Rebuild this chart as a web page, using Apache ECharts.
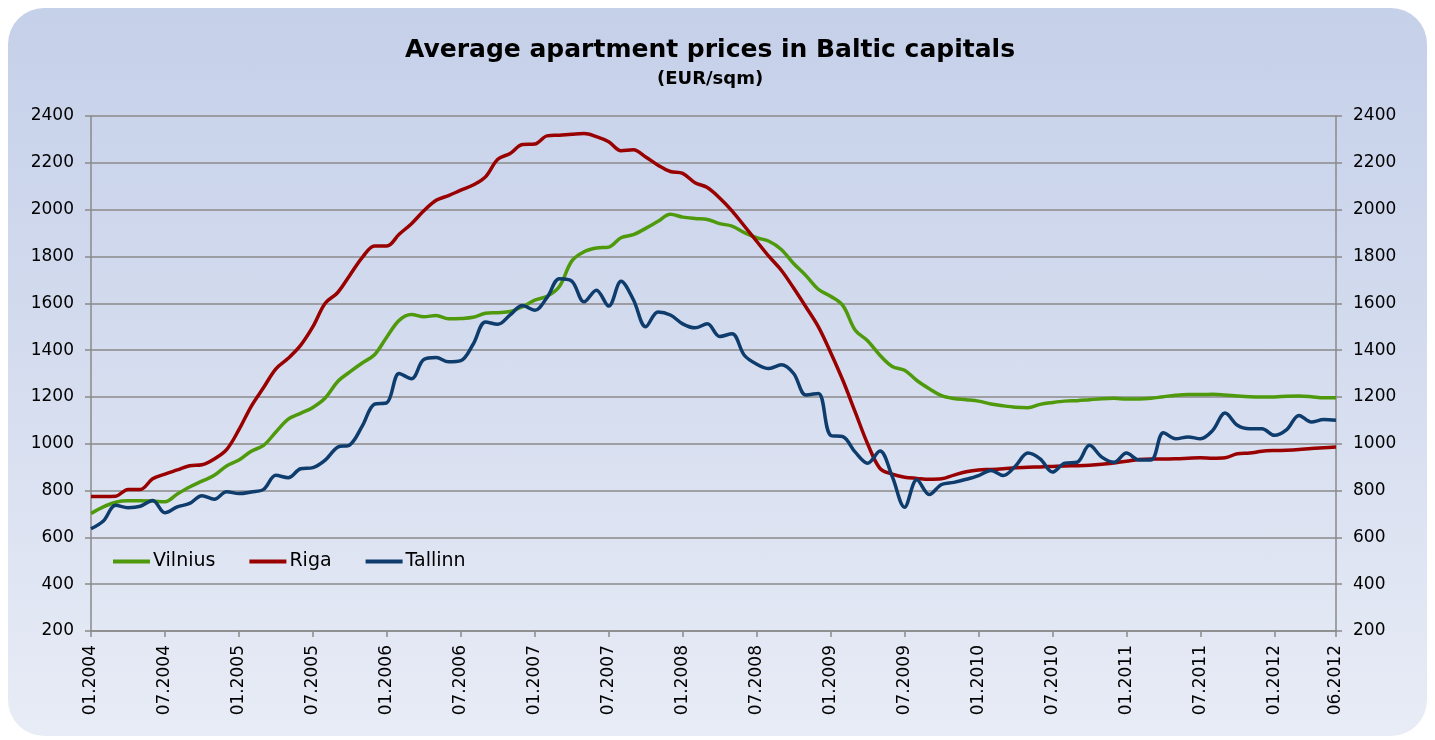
<!DOCTYPE html>
<html>
<head>
<meta charset="utf-8">
<script src="https://cdn.jsdelivr.net/npm/echarts@6/dist/echarts.min.js"></script>
<style>
  html, body { margin: 0; padding: 0; background: #ffffff; }
  #panel { position: absolute; left: 8px; top: 8px; width: 1419px; height: 728px;
           border-radius: 36px; background: linear-gradient(to bottom, #c5d0e9 0%, #d3dbee 45%, #e8ecf6 100%); }
  #chart { position: absolute; left: 0; top: 0; width: 1435px; height: 740px; }
</style>
</head>
<body>
<div id="panel"></div>
<div id="chart"></div>
<script>
// Month categories 01.2004 .. 06.2012
const categories = [];
for (let y = 2004; y <= 2012; y++) {
  for (let m = 1; m <= 12; m++) {
    if (y === 2012 && m > 6) break;
    categories.push((m < 10 ? '0' + m : '' + m) + '.' + y);
  }
}

const yTicks = [200, 400, 600, 800, 1000, 1200, 1400, 1600, 1800, 2000, 2200, 2400];

const vilnius = [
  702, 730, 750, 756, 756, 755, 752, 785, 815, 840, 865, 905,
  930, 968, 993, 1050, 1105, 1130, 1155, 1195, 1265, 1307, 1345, 1380,
  1456, 1527, 1552, 1542, 1548, 1534, 1535, 1540, 1557, 1560, 1565, 1585,
  1613, 1630, 1672, 1780, 1820, 1836, 1840, 1880, 1893, 1920, 1950, 1980,
  1968, 1962, 1958, 1940, 1930, 1902, 1880, 1865, 1830, 1770, 1718, 1660,
  1630, 1590, 1485, 1440, 1378, 1330, 1314, 1270, 1235, 1205, 1193, 1188,
  1182, 1170, 1162, 1156, 1154, 1168, 1176, 1182, 1184, 1188, 1192, 1194,
  1191, 1191, 1194, 1201, 1207, 1210, 1210, 1211, 1208, 1204, 1201, 1200,
  1200, 1203, 1204, 1201, 1196, 1196
];

const riga = [
  775, 775, 776, 805, 805, 850, 870, 888, 906, 910, 935, 975,
  1060, 1160, 1240, 1320, 1365, 1420, 1500, 1600, 1645, 1720, 1795, 1845,
  1845, 1895, 1940, 1995, 2040, 2060, 2083, 2105, 2140, 2215, 2240, 2278,
  2280, 2315, 2318, 2322, 2325, 2312, 2290, 2252, 2256, 2225, 2190, 2163,
  2155, 2115, 2095, 2050, 1995, 1930, 1865, 1800, 1741, 1665, 1584, 1500,
  1390, 1270, 1135, 1000, 895, 870, 857, 852, 848, 850, 866, 880,
  888, 890, 893, 897, 900, 901, 903, 905, 906, 908, 912, 918,
  925, 933, 935, 935, 936, 938, 940, 938, 940, 957, 960, 968,
  971, 972, 975, 980, 983, 986
];

const tallinn = [
  637, 670, 737, 727, 733, 758, 705, 730, 745, 778, 763, 795,
  787, 794, 805, 865, 855, 893, 898, 930, 985, 995, 1075, 1169,
  1175, 1300, 1278, 1360, 1368, 1350, 1355, 1425, 1520, 1510, 1550, 1590,
  1570, 1625, 1705, 1695, 1606, 1656, 1588, 1694, 1615, 1500, 1563, 1550,
  1512, 1495, 1512, 1458, 1470, 1378, 1340, 1321, 1337, 1300, 1208, 1215,
  1036, 1030, 964, 917, 969, 860, 729, 846, 783, 826, 835, 848,
  864, 886, 864, 905, 960, 935, 879, 917, 921, 993, 943, 921,
  960, 931, 931, 1047, 1021, 1029, 1021, 1057, 1131, 1079, 1064, 1064,
  1036, 1060, 1121, 1093, 1103, 1100
];

const FONT = '"DejaVu Sans", Verdana, sans-serif';
const lastIdx = categories.length - 1;
const showIdx = (i) => i % 6 === 0 || i === lastIdx;

const chart = echarts.init(document.getElementById('chart'), null, { renderer: 'canvas' });

const axisGray = '#8a8a8a';

const option = {
  backgroundColor: 'transparent',
  animation: false,
  title: [
    { text: 'Average apartment prices in Baltic capitals', left: 400, top: 33,
      textStyle: { fontFamily: FONT, fontSize: 25, fontWeight: 'bold', color: '#000' } },
    { text: '(EUR/sqm)', left: 652, top: 65,
      textStyle: { fontFamily: FONT, fontSize: 18, fontWeight: 'bold', color: '#000' } }
  ],
  legend: {
    left: 108, top: 547,
    itemWidth: 37, itemHeight: 4, itemGap: 34,
    icon: 'rect',
    textStyle: { fontFamily: FONT, fontSize: 19, color: '#000', padding: [0, 0, 0, -2] },
    data: ['Vilnius', 'Riga', 'Tallinn']
  },
  grid: { left: 91, right: 99, top: 116, bottom: 109, containLabel: false },
  xAxis: {
    type: 'category',
    data: categories,
    boundaryGap: false,
    axisLine: { lineStyle: { color: axisGray, width: 1.5 } },
    axisTick: { interval: (i) => showIdx(i), length: 6, lineStyle: { color: axisGray, width: 1.5 } },
    axisLabel: { interval: (i) => showIdx(i), rotate: 90, margin: 14,
      fontFamily: FONT, fontSize: 17, color: '#000' },
    splitLine: { show: false }
  },
  yAxis: [
    { type: 'value', min: 200, max: 2400, interval: 200, position: 'left',
      axisLine: { show: true, lineStyle: { color: axisGray, width: 1.5 } },
      axisTick: { show: true, length: 6, lineStyle: { color: axisGray, width: 1.5 } },
      axisLabel: { margin: 17, fontFamily: FONT, fontSize: 17, color: '#000',
        formatter: (v) => yTicks.indexOf(v) >= 0 ? String(v) : '' },
      splitLine: { show: true, lineStyle: { color: axisGray, width: 1.5 } } },
    { type: 'value', min: 200, max: 2400, interval: 200, position: 'right',
      axisLine: { show: true, lineStyle: { color: axisGray, width: 1.5 } },
      axisTick: { show: true, length: 6, lineStyle: { color: axisGray, width: 1.5 } },
      axisLabel: { margin: 17, fontFamily: FONT, fontSize: 17, color: '#000',
        formatter: (v) => yTicks.indexOf(v) >= 0 ? String(v) : '' },
      splitLine: { show: false } }
  ],
  series: [
    { name: 'Vilnius', type: 'line', data: vilnius, smooth: 0.35, symbol: 'none',
      itemStyle: { color: '#4f9a0c' }, lineStyle: { color: '#4f9a0c', width: 3.5 }, z: 3 },
    { name: 'Riga', type: 'line', data: riga, smooth: 0.35, symbol: 'none',
      itemStyle: { color: '#990000' }, lineStyle: { color: '#990000', width: 3.5 }, z: 4 },
    { name: 'Tallinn', type: 'line', data: tallinn, smooth: 0.35, symbol: 'none',
      itemStyle: { color: '#0e3c6c' }, lineStyle: { color: '#0e3c6c', width: 3.5 }, z: 5 }
  ]
};

chart.setOption(option);
</script>
</body>
</html>
